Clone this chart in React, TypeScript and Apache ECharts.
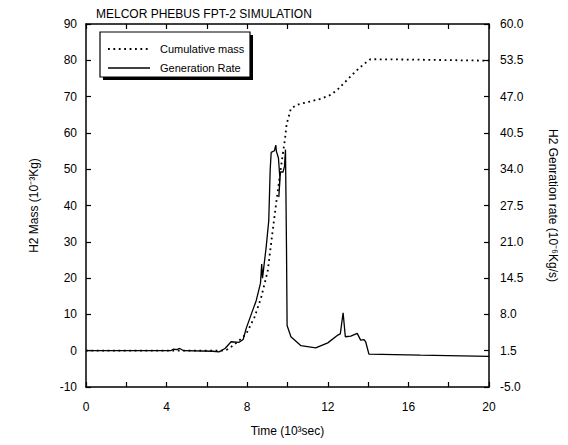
import React, { useEffect, useRef } from "react";
import * as echarts from "echarts";

// Time (10^3 s) vs H2 generation rate (10^-6 kg/s)
const rateData: [number, number][] = [
  [0, 1.5], [4.2, 1.5], [4.35, 1.8], [4.5, 1.7], [4.65, 1.9], [4.85, 1.5],
  [6.3, 1.4], [6.6, 1.3], [6.9, 1.9], [7.2, 3.1], [7.6, 3.0], [7.8, 3.5],
  [7.95, 5.5], [8.2, 8.0], [8.45, 10.5], [8.66, 13.6], [8.72, 17.0], [8.76, 14.5],
  [8.94, 20.0], [9.07, 24.8], [9.14, 33.8], [9.19, 37.0], [9.35, 37.3], [9.42, 38.3],
  [9.45, 37.2], [9.55, 36.0], [9.62, 32.5], [9.57, 29.0], [9.65, 33.5], [9.78, 33.5],
  [9.85, 34.5], [9.9, 37.5], [9.95, 20.0], [9.98, 6.0], [10.17, 4.0], [10.67, 2.4],
  [11.4, 2.0], [12.0, 2.9], [12.5, 4.3], [12.62, 4.5], [12.76, 8.3], [12.87, 4.0],
  [13.14, 4.1], [13.46, 4.6], [13.63, 3.4], [13.8, 3.5], [13.88, 3.1], [14.04, 0.9],
  [16.6, 0.7], [20, 0.5],
];

// Time (10^3 s) vs cumulative H2 mass (10^-3 kg)
const massData: [number, number][] = [
  [0, 0], [6.8, 0], [7.0, 0.3], [7.3, 1.4], [7.6, 2.8], [7.95, 4.6], [8.36, 9.2],
  [8.69, 14.6], [9.02, 22.0], [9.22, 31.1], [9.43, 40.3], [9.65, 49.5], [9.88, 58.6],
  [9.96, 62.5], [10.04, 64.1], [10.17, 66.7], [10.5, 67.8], [11.16, 68.7], [11.65, 69.4],
  [12.15, 70.5], [12.48, 71.9], [12.89, 74.2], [13.3, 76.5], [13.55, 77.8], [13.8, 79.0],
  [14.12, 80.3], [16, 80.2], [20, 79.9],
];

const timeLabels = [0, 4, 8, 12, 16, 20];

const FONT = "Liberation Sans";
const BLACK = "#000";

export default function App() {
  const ref = useRef<HTMLDivElement>(null);

  useEffect(() => {
    if (!ref.current) return;
    const chart = echarts.init(ref.current, undefined, { renderer: "svg" });
    const txt = { color: BLACK, fontFamily: FONT, fontSize: 12 };
    const axisLine = { show: true, onZero: false, lineStyle: { color: BLACK, width: 1.5 } };
    const axisTick = { show: true, inside: true, length: 5, lineStyle: { color: BLACK, width: 1.2 } };

    chart.setOption({
      animation: false,
      backgroundColor: "#fff",
      title: {
        text: "MELCOR PHEBUS FPT-2 SIMULATION",
        left: 96,
        top: 8,
        padding: 0,
        textStyle: { ...txt, fontWeight: "normal" },
      },
      grid: { left: 86, right: 79, top: 24, bottom: 58 },
      xAxis: [
        {
          type: "value",
          min: 0,
          max: 20,
          interval: 2,
          position: "bottom",
          axisLine,
          axisTick,
          splitLine: { show: false },
          axisLabel: {
            ...txt,
            margin: 14,
            formatter: (v: number) => (timeLabels.includes(v) ? String(v) : ""),
          },
          name: "Time (10³sec)",
          nameLocation: "middle",
          nameGap: 38,
          nameTextStyle: txt,
        },
        {
          type: "value",
          min: 0,
          max: 20,
          interval: 2,
          position: "top",
          axisLine,
          axisTick,
          splitLine: { show: false },
          axisLabel: { show: false },
        },
      ],
      yAxis: [
        {
          type: "value",
          min: -10,
          max: 90,
          interval: 10,
          position: "left",
          axisLine,
          axisTick,
          splitLine: { show: false },
          axisLabel: { ...txt, margin: 9 },
          name: "H2 Mass (10⁻³Kg)",
          nameLocation: "middle",
          nameGap: 46,
          nameTextStyle: txt,
        },
        {
          type: "value",
          min: -5,
          max: 60,
          interval: 6.5,
          position: "right",
          axisLine,
          axisTick,
          splitLine: { show: false },
          axisLabel: { ...txt, margin: 11, formatter: (v: number) => v.toFixed(1) },
          name: "H2 Genration rate (10⁻⁶Kg/s)",
          nameLocation: "middle",
          nameRotate: -90,
          nameGap: 58,
          nameTextStyle: txt,
        },
      ],
      series: [
        {
          name: "Cumulative mass",
          type: "line",
          xAxisIndex: 0,
          yAxisIndex: 0,
          data: massData,
          symbol: "none",
          showSymbol: false,
          lineStyle: { color: BLACK, width: 1.8, type: [1.8, 3.6] },
        },
        {
          name: "Generation Rate",
          type: "line",
          xAxisIndex: 0,
          yAxisIndex: 1,
          data: rateData,
          symbol: "none",
          showSymbol: false,
          lineStyle: { color: BLACK, width: 1.3 },
        },
      ],
      graphic: [
        { type: "rect", shape: { x: 103, y: 35, width: 150, height: 45 }, style: { fill: BLACK }, z: 10 },
        { type: "rect", shape: { x: 100, y: 32, width: 150, height: 45 }, style: { fill: "#fff", stroke: BLACK, lineWidth: 1.2 }, z: 11 },
        { type: "line", shape: { x1: 108, y1: 49, x2: 150, y2: 49 }, style: { stroke: BLACK, lineWidth: 1.8, lineDash: [1.8, 3.6] }, z: 12 },
        { type: "text", x: 160, y: 49, style: { text: "Cumulative mass", fill: BLACK, font: `11px "${FONT}"`, textVerticalAlign: "middle", verticalAlign: "middle" }, z: 12 },
        { type: "line", shape: { x1: 108, y1: 68, x2: 150, y2: 68 }, style: { stroke: BLACK, lineWidth: 1.3 }, z: 12 },
        { type: "text", x: 160, y: 68, style: { text: "Generation Rate", fill: BLACK, font: `11px "${FONT}"`, textVerticalAlign: "middle", verticalAlign: "middle" }, z: 12 },
      ],
    });
    return () => chart.dispose();
  }, []);

  return (
    <div
      ref={ref}
      style={{ position: "absolute", left: 0, top: 0, width: 568, height: 445 }}
    />
  );
}
